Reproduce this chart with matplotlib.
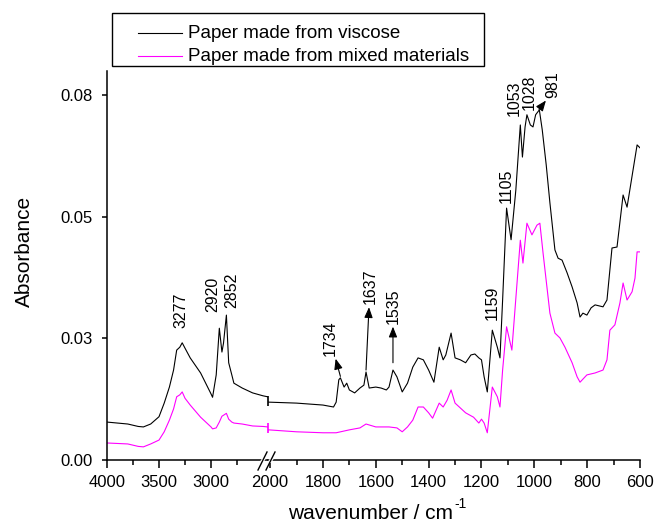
import matplotlib.pyplot as plt
from matplotlib.lines import Line2D
from matplotlib.patches import Rectangle, Polygon

plt.rcParams['font.family'] = ['Liberation Sans', 'DejaVu Sans']

# ---- data ----
series_names = ["Paper made from viscose", "Paper made from mixed materials"]

# high wavenumber part (left of the axis break)
wn_left = [4000, 3900, 3800, 3700, 3650, 3580, 3500, 3450, 3400, 3360, 3330, 3300,
           3277, 3250, 3200, 3100, 3000, 2985, 2950, 2920, 2895, 2880, 2852, 2830,
           2800, 2780, 2700, 2600, 2500, 2455]
viscose_left = [0.0078, 0.0076, 0.0074, 0.0069, 0.0068, 0.0074, 0.0089, 0.0117, 0.0150,
                0.0185, 0.0226, 0.0232, 0.0241, 0.0230, 0.0210, 0.0179, 0.0136, 0.0129,
                0.0175, 0.0271, 0.0222, 0.0240, 0.0298, 0.0200, 0.0175, 0.0158, 0.0148,
                0.0138, 0.0132, 0.0130]
mixed_left = [0.0035, 0.0034, 0.0033, 0.0028, 0.0027, 0.0033, 0.0041, 0.0058, 0.0082,
              0.0105, 0.0130, 0.0134, 0.0140, 0.0127, 0.0113, 0.0088, 0.0068, 0.0064,
              0.0066, 0.0078, 0.0090, 0.0092, 0.0096, 0.0084, 0.0078, 0.0076, 0.0074,
              0.0070, 0.0069, 0.0068]

# fingerprint part (right of the axis break)
wn_viscose_right = [2006, 1900, 1800, 1760, 1750, 1740, 1734, 1720, 1710, 1700, 1680, 1660,
                    1645, 1637, 1625, 1600, 1580, 1560, 1550, 1535, 1520, 1500, 1480, 1460,
                    1440, 1420, 1400, 1380, 1360, 1345, 1335, 1315, 1300, 1280, 1260, 1240,
                    1225, 1210, 1200, 1190, 1178, 1159, 1140, 1130, 1120, 1105, 1088, 1070,
                    1053, 1045, 1035, 1028, 1015, 1005, 995, 981, 970, 955, 941, 922,
                    910, 895, 876, 857, 838, 827, 816, 801, 785, 770, 740, 725,
                    706, 687, 664, 649, 611, 600]
viscose_right = [0.0119, 0.0117, 0.0113, 0.0109, 0.0119, 0.0165, 0.0169, 0.0150, 0.0158,
                 0.0144, 0.0138, 0.0148, 0.0154, 0.0181, 0.0148, 0.0150, 0.0148, 0.0144,
                 0.0150, 0.0185, 0.0171, 0.0140, 0.0158, 0.0191, 0.0210, 0.0206, 0.0185,
                 0.0160, 0.0232, 0.0206, 0.0216, 0.0261, 0.0210, 0.0206, 0.0200, 0.0216,
                 0.0218, 0.0210, 0.0206, 0.0171, 0.0140, 0.0267, 0.0232, 0.0210, 0.0329,
                 0.0518, 0.0453, 0.0555, 0.0689, 0.0623, 0.0685, 0.0710, 0.0689, 0.0685,
                 0.0710, 0.0720, 0.0679, 0.0607, 0.0529, 0.0432, 0.0415, 0.0411, 0.0385,
                 0.0356, 0.0323, 0.0294, 0.0302, 0.0298, 0.0313, 0.0319, 0.0315, 0.0329,
                 0.0436, 0.0438, 0.0545, 0.0520, 0.0648, 0.0642]
wn_mixed_right = [2006, 1900, 1800, 1750, 1700, 1660, 1637, 1600, 1550, 1520, 1500, 1480,
                  1460, 1440, 1420, 1400, 1385, 1360, 1345, 1330, 1315, 1300, 1280, 1260,
                  1230, 1210, 1200, 1190, 1178, 1159, 1140, 1130, 1120, 1105, 1085, 1053,
                  1043, 1028, 1009, 990, 979, 967, 941, 922, 903, 884, 857, 838,
                  827, 801, 770, 740, 725, 714, 695, 676, 664, 649, 630, 619,
                  611, 600]
mixed_right = [0.0062, 0.0058, 0.0056, 0.0056, 0.0062, 0.0066, 0.0074, 0.0068, 0.0068,
               0.0066, 0.0058, 0.0068, 0.0082, 0.0109, 0.0109, 0.0097, 0.0086, 0.0117,
               0.0109, 0.0123, 0.0144, 0.0117, 0.0107, 0.0097, 0.0088, 0.0076, 0.0084,
               0.0076, 0.0056, 0.0150, 0.0130, 0.0109, 0.0185, 0.0274, 0.0226, 0.0452,
               0.0405, 0.0487, 0.0463, 0.0483, 0.0487, 0.0426, 0.0302, 0.0261, 0.0251,
               0.0232, 0.0200, 0.0171, 0.0160, 0.0175, 0.0179, 0.0185, 0.0206, 0.0267,
               0.0278, 0.0323, 0.0364, 0.0329, 0.0346, 0.0374, 0.0428, 0.0428]

# small vertical jumps drawn at the break
viscose_jump = [0.0111, 0.0131]
mixed_jump = [0.0056, 0.0076]

# axis ticks
y_ticks = [0.0, 0.025, 0.05, 0.075]
y_tick_labels = ["0.00", "0.03", "0.05", "0.08"]
x_ticks_left = [4000, 3500, 3000]
x_minor_left = [3750, 3250, 2750]
x_ticks_right = [2000, 1800, 1600, 1400, 1200, 1000, 800, 600]
x_minor_right = [1900, 1700, 1500, 1300, 1100, 900, 700]

colors = ["black", "#ff00ff"]

# ---- layout helpers (pixel -> figure fraction) ----
W, H = 654, 526
fig = plt.figure(figsize=(W / 100, H / 100), dpi=100)


def fx(px):
    return px / W


def fy(py):
    return 1 - py / H


x0, xb, x1 = 107, 268, 640   # left edge, break, right edge
y_bot, y_top = 460, 71

ax_l = fig.add_axes([fx(x0), fy(y_bot), fx(xb) - fx(x0), fy(y_top) - fy(y_bot)])
ax_r = fig.add_axes([fx(xb), fy(y_bot), fx(x1) - fx(xb), fy(y_top) - fy(y_bot)])

# curves
ax_l.plot(wn_left, viscose_left, color=colors[0], lw=0.8)
ax_l.plot(wn_left, mixed_left, color=colors[1], lw=0.8)
ax_r.plot(wn_viscose_right, viscose_right, color=colors[0], lw=0.8)
ax_r.plot(wn_mixed_right, mixed_right, color=colors[1], lw=0.8)
ax_r.vlines(2008, viscose_jump[0], viscose_jump[1], color=colors[0], lw=1.2, clip_on=False)
ax_r.vlines(2008, mixed_jump[0], mixed_jump[1], color=colors[1], lw=1.2, clip_on=False)

ax_l.set_xlim(4000, 2452)
ax_r.set_xlim(2008, 600)
for ax in (ax_l, ax_r):
    ax.set_ylim(0, 0.08)
    ax.spines['top'].set_visible(False)
    ax.spines['right'].set_visible(False)
    ax.spines['bottom'].set_linewidth(1.1)
    ax.spines['left'].set_linewidth(1.1)
    ax.tick_params(axis='x', which='major', direction='out', length=6, width=1.1,
                   labelsize=12, pad=4.5)
    ax.tick_params(axis='x', which='minor', direction='out', length=3.5, width=1.1)

ax_r.spines['left'].set_visible(False)
ax_r.tick_params(axis='y', left=False, labelleft=False)

ax_l.set_xticks(x_ticks_left)
ax_l.set_xticks(x_minor_left, minor=True)
ax_r.set_xticks(x_ticks_right)
ax_r.set_xticks(x_minor_right, minor=True)

ax_l.set_yticks(y_ticks)
ax_l.set_yticklabels(y_tick_labels)
ax_l.tick_params(axis='y', direction='out', length=3.5, width=1.1, labelsize=12, pad=7)

# axis break marks
for dx in (0, 8):
    fig.add_artist(Polygon([(fx(259 + dx), fy(463)), (fx(263 + dx), fy(457)),
                            (fx(267 + dx), fy(457)), (fx(263 + dx), fy(463))],
                           closed=True, facecolor='white', edgecolor='none'))
for dx in (0, 8):
    fig.add_artist(Line2D([fx(258 + dx), fx(267 + dx)], [fy(470), fy(452)],
                          color='black', lw=1.0))

# axis labels (superscript "-1" set by hand so it keeps a plain hyphen)
ax_l.set_ylabel("Absorbance", fontsize=15)
ax_l.yaxis.set_label_coords(-0.453, 0.537)
fig.text(fx(453), fy(519), "wavenumber / cm", fontsize=15, ha='right', va='baseline')
fig.text(fx(454), fy(508), "-1", fontsize=10, ha='left', va='baseline')

# peak labels
peak_notes = [
    (ax_l, "3277", None, (3289, 0.0272), None),
    (ax_l, "2920", None, (2981, 0.0305), None),
    (ax_l, "2852", None, (2798, 0.0313), None),
    (ax_r, "1734", (1734, 0.0172), (1773, 0.0214), (0.5, 0.5)),
    (ax_r, "1637", (1637, 0.0185), (1622, 0.0320), (0.5, 0.5)),
    (ax_r, "1535", (1535, 0.0200), (1535, 0.0280), (0.5, 0.5)),
    (ax_r, "1159", None, (1160, 0.0288), None),
    (ax_r, "1105", None, (1107, 0.0529), None),
    (ax_r, "1053", None, (1075, 0.0707), None),
    (ax_r, "1028", None, (1018, 0.0720), None),
    (ax_r, "981", (982, 0.0721), (931, 0.0745), (0.2, 0.0)),
]
for ax, label, xy, xytext, relpos in peak_notes:
    if xy is None:
        ax.text(xytext[0], xytext[1], label, rotation=90, ha='center', va='bottom',
                fontsize=11.5)
    else:
        ax.annotate(label, xy=xy, xytext=xytext, rotation=90, ha='center',
                    va='bottom', fontsize=11.5, annotation_clip=False,
                    arrowprops=dict(arrowstyle='<|-,head_length=0.55,head_width=0.22',
                                    color='black', lw=0.8, shrinkA=0, shrinkB=0,
                                    relpos=relpos))

# legend box (drawn by hand so that it sits above the plot like the original)
fig.add_artist(Rectangle((fx(112), fy(66)), fx(484) - fx(112), fy(13) - fy(66),
                         facecolor='white', edgecolor='black', lw=1.0))
for i, (name, c) in enumerate(zip(series_names, colors)):
    yy = 33 + 22.5 * i
    fig.add_artist(Line2D([fx(138), fx(182)], [fy(yy), fy(yy)], color=c, lw=0.8))
    fig.text(fx(188), fy(yy + 5.5), name, fontsize=13.5, ha='left', va='baseline')

fig.savefig("out.png", dpi=100)
